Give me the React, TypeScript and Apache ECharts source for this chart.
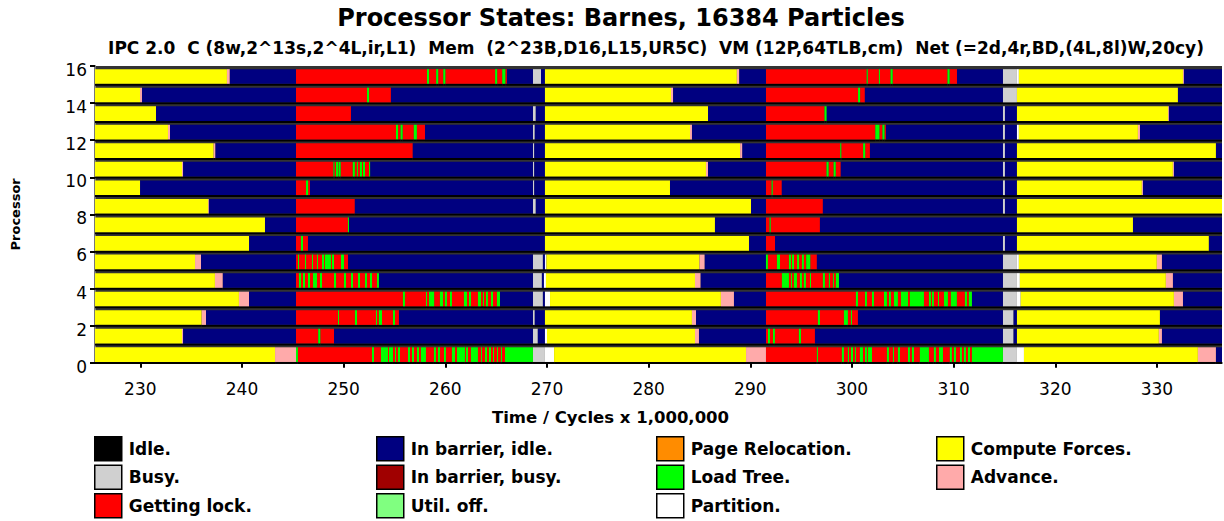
import React, { useEffect, useRef } from "react";
import * as echarts from "echarts";

// Processor states (legend order is column-major, three per column)
const STATE_NAMES = [
  "Idle.",
  "Busy.",
  "Getting lock.",
  "In barrier, idle.",
  "In barrier, busy.",
  "Util. off.",
  "Page Relocation.",
  "Load Tree.",
  "Partition.",
  "Compute Forces.",
  "Advance.",
];
const STATE_COLORS = [
  "#000000",
  "#d0d0d0",
  "#ff0000",
  "#000080",
  "#a00000",
  "#80ff80",
  "#ff8c00",
  "#00ff00",
  "#ffffff",
  "#ffff00",
  "#ffaaaa",
];

// state indices
const U = 1; // busy
const L = 2; // getting lock
const B = 3; // in barrier, idle
const T = 7; // load tree
const P = 8; // partition
const C = 9; // compute forces
const A = 10; // advance

const TIME_START = 225.54;
const TIME_END = 336.4;
const TIME_TICKS = [230, 240, 250, 260, 270, 280, 290, 300, 310, 320, 330];

// Each processor: list of [segment end time, state]; a segment starts where the previous one ended.
const proc0 = [[243.25,C],[245.31,A],[245.5,T],[252.79,L],[252.98,T],[253.67,L],[254.36,T],[254.46,L],[254.85,T],[255.05,L],[255.15,T],[255.34,L],[255.54,T],[256.33,L],[256.52,T],[256.72,L],[256.92,T],[257.21,L],[257.41,T],[257.6,L],[258.1,T],[258.88,L],[259.08,T],[259.28,L],[259.47,T],[259.87,L],[260.06,T],[260.65,L],[260.95,T],[261.15,L],[261.93,T],[262.03,L],[262.23,T],[262.52,L],[263.21,T],[263.51,L],[263.6,T],[263.9,L],[264.1,T],[264.29,L],[264.49,T],[264.69,L],[264.79,T],[265.08,L],[265.18,T],[265.47,L],[265.57,T],[265.87,L],[268.62,T],[269.8,U],[270.7,P],[289.58,C],[291.54,A],[296.55,L],[296.65,T],[299.01,L],[299.21,T],[299.6,L],[299.7,T],[299.9,L],[300.1,T],[300.29,L],[300.39,T],[300.78,L],[301.08,T],[301.28,L],[301.47,T],[301.57,L],[301.97,T],[303.44,L],[303.64,T],[304.03,L],[304.13,T],[304.52,L],[304.72,T],[305.51,L],[305.7,T],[305.9,L],[306.1,T],[306.68,L],[307.57,T],[308.06,L],[308.26,T],[308.56,L],[308.95,T],[309.63,L],[309.83,T],[310.03,L],[310.23,T],[310.62,L],[310.82,T],[311.01,L],[311.21,T],[311.41,L],[311.61,T],[311.8,L],[314.85,T],[316.23,U],[316.92,P],[334.03,C],[335.8,A],[336.4,B]];
const proc1 = [[234.1,C],[234.2,A],[245.31,B],[247.5,L],[247.7,T],[249.05,L],[268.62,B],[269.1,U],[269.8,B],[270.0,P],[284.56,C],[284.95,A],[291.54,B],[291.74,L],[291.93,T],[292.23,L],[292.42,T],[294.78,L],[294.98,T],[296.36,L],[314.85,B],[315.9,U],[316.23,B],[330.19,C],[330.49,A],[336.4,B]];
const proc2 = [[236.03,C],[236.46,A],[245.31,B],[249.44,L],[249.54,T],[251.11,L],[251.31,T],[253.18,L],[253.28,T],[253.47,L],[253.77,T],[254.85,L],[255.05,T],[255.44,L],[268.62,B],[268.8,U],[269.8,B],[284.26,C],[284.66,A],[291.54,B],[296.65,L],[296.85,T],[299.21,L],[299.6,T],[299.9,L],[300.0,T],[300.59,L],[314.85,B],[315.9,U],[316.23,B],[330.29,C],[336.4,B]];
const proc3 = [[239.7,C],[240.69,A],[245.31,B],[255.83,L],[256.03,T],[258.1,L],[258.2,T],[258.4,L],[258.9,T],[259.47,L],[259.77,T],[259.96,L],[260.16,T],[260.46,L],[260.65,T],[261.83,L],[262.13,T],[262.33,L],[262.52,T],[263.21,L],[263.51,T],[263.7,L],[263.8,T],[264.0,L],[264.19,T],[264.49,L],[264.69,T],[265.08,L],[265.38,T],[268.62,B],[269.6,U],[269.8,B],[270.3,P],[287.11,C],[288.39,A],[291.54,B],[300.39,L],[300.59,T],[301.28,L],[301.47,T],[301.97,L],[302.16,T],[303.15,L],[303.44,T],[303.64,L],[303.83,T],[304.13,L],[304.52,T],[304.82,L],[305.51,T],[305.7,L],[307.08,T],[307.57,L],[307.77,T],[307.87,L],[308.06,T],[308.46,L],[308.56,T],[309.05,L],[309.44,T],[309.73,L],[310.32,T],[311.11,L],[311.31,T],[311.5,L],[311.8,T],[314.85,B],[316.23,U],[316.6,P],[331.67,C],[332.56,A],[336.4,B]];
const proc4 = [[237.34,C],[238.1,A],[245.31,B],[245.6,L],[245.8,T],[246.0,L],[246.2,T],[246.49,L],[246.69,T],[246.98,L],[247.38,T],[247.67,L],[247.87,T],[249.05,L],[249.25,T],[250.03,L],[250.23,T],[250.72,L],[250.92,T],[251.41,L],[251.61,T],[252.1,L],[252.29,T],[252.59,L],[252.79,T],[253.28,L],[253.47,T],[268.62,B],[269.5,U],[269.7,B],[269.9,P],[284.56,C],[285.1,A],[291.54,B],[293.11,L],[293.8,T],[294.0,L],[294.1,T],[294.29,L],[294.59,T],[294.88,L],[295.08,T],[295.27,L],[295.47,T],[295.87,L],[295.97,T],[297.14,L],[297.34,T],[297.73,L],[297.83,T],[298.13,L],[298.22,T],[298.42,L],[298.72,T],[314.85,B],[316.23,U],[316.52,P],[330.88,C],[331.57,A],[336.4,B]];
const proc5 = [[235.38,C],[235.97,A],[245.31,B],[245.51,L],[245.61,T],[246.2,L],[246.3,T],[246.88,L],[246.98,T],[247.38,L],[247.47,T],[247.87,L],[248.07,T],[248.16,L],[248.75,T],[248.85,L],[249.05,T],[249.74,L],[250.03,T],[250.43,L],[268.62,B],[269.6,U],[269.8,B],[269.95,P],[285.0,C],[285.5,A],[291.54,B],[291.73,T],[292.62,L],[292.92,T],[293.8,L],[294.0,T],[294.1,L],[294.3,T],[294.6,L],[294.8,T],[295.08,L],[295.27,T],[295.5,L],[295.9,T],[296.55,L],[314.85,B],[316.23,U],[316.42,P],[329.99,C],[330.49,A],[336.4,B]];
const proc6 = [[240.69,C],[245.31,B],[245.8,L],[246.0,T],[246.49,L],[269.8,B],[289.87,C],[291.54,B],[292.43,L],[314.85,B],[315.05,U],[316.23,B],[335.1,C],[336.4,B]];
const proc7 = [[242.26,C],[245.31,B],[250.42,L],[250.52,T],[269.8,B],[286.52,C],[291.54,B],[291.9,L],[292.0,T],[296.85,L],[316.23,B],[327.64,C],[336.4,B]];
const proc8 = [[236.68,C],[236.75,A],[245.31,B],[251.1,L],[268.62,B],[268.9,U],[269.8,B],[290.07,C],[291.54,B],[297.14,L],[314.85,B],[315.05,U],[316.23,B],[336.4,C]];
const proc9 = [[229.97,C],[245.31,B],[246.3,L],[246.5,T],[246.69,L],[268.62,B],[268.75,U],[269.8,B],[282.1,C],[291.54,B],[292.1,L],[292.2,T],[293.1,L],[314.85,B],[315.05,U],[316.23,B],[328.52,C],[328.62,A],[336.4,B]];
const proc10 = [[234.1,C],[234.2,A],[245.31,B],[249.0,L],[249.1,T],[249.25,L],[249.45,T],[249.5,L],[249.7,T],[250.9,L],[251.1,T],[251.3,L],[251.4,T],[251.6,L],[251.8,T],[251.9,L],[252.1,T],[252.5,L],[252.6,T],[268.62,B],[268.75,U],[269.8,B],[285.64,C],[285.84,A],[291.54,B],[297.5,L],[297.7,T],[298.2,L],[298.4,T],[298.9,L],[314.85,B],[315.05,U],[316.23,B],[331.57,C],[331.67,A],[336.4,B]];
const proc11 = [[237.21,C],[237.37,A],[245.31,B],[256.8,L],[268.62,B],[268.75,U],[269.8,B],[289.0,C],[289.2,A],[291.54,B],[298.85,L],[298.95,T],[301.1,L],[301.3,T],[301.77,L],[314.85,B],[315.05,U],[316.23,B],[335.8,C],[336.4,B]];
const proc12 = [[232.72,C],[232.92,A],[245.31,B],[255.15,L],[255.35,T],[255.6,L],[255.8,T],[256.9,L],[257.2,T],[258.0,L],[268.62,B],[268.8,U],[269.8,B],[284.07,C],[284.26,A],[291.54,B],[302.3,L],[302.7,T],[303.0,L],[303.2,T],[303.34,L],[314.85,B],[315.05,U],[316.23,B],[316.42,P],[328.13,C],[328.33,A],[336.4,B]];
const proc13 = [[231.54,C],[245.31,B],[250.72,L],[268.62,B],[268.9,U],[269.8,B],[285.84,C],[291.54,B],[297.3,L],[297.5,T],[314.85,B],[315.05,U],[316.23,B],[331.1,C],[331.18,A],[336.4,B]];
const proc14 = [[229.97,C],[230.16,A],[245.31,B],[252.3,L],[252.5,T],[254.65,L],[269.8,B],[282.2,C],[282.4,A],[291.54,B],[300.6,L],[300.8,T],[301.27,L],[314.85,B],[316.23,U],[332.06,C],[336.4,B]];
const proc15 = [[238.52,C],[238.79,A],[245.31,B],[258.2,L],[258.4,T],[259.1,L],[259.3,T],[259.8,L],[260.0,T],[264.9,L],[265.1,T],[265.6,L],[265.9,T],[266.06,L],[268.62,B],[269.41,U],[269.8,B],[288.68,C],[288.9,A],[291.54,B],[301.45,L],[301.55,T],[302.65,L],[302.75,T],[303.8,L],[304.0,T],[309.4,L],[309.6,T],[310.33,L],[314.85,B],[316.23,U],[316.42,P],[332.56,C],[332.65,A],[336.4,B]];

const PROCESSORS = [
  proc0, proc1, proc2, proc3, proc4, proc5, proc6, proc7,
  proc8, proc9, proc10, proc11, proc12, proc13, proc14, proc15,
];

const LEGEND_COLUMNS = [
  ["Idle.", "Busy.", "Getting lock."],
  ["In barrier, idle.", "In barrier, busy.", "Util. off."],
  ["Page Relocation.", "Load Tree.", "Partition."],
  ["Compute Forces.", "Advance."],
];
const LEGEND_LEFT = [94, 376, 656, 936];

const FONT = "'DejaVu Sans', Verdana, sans-serif";
const BAR_LOW = 0.04; // bar bottom inside a processor's row (axis units)
const BAR_HIGH = 0.83; // bar top inside a processor's row

function buildSeries() {
  const perState: number[][][] = STATE_NAMES.map(() => []);
  PROCESSORS.forEach((segments, proc) => {
    let start = TIME_START;
    segments.forEach(([end, state]) => {
      perState[state].push([start, end, proc]);
      start = end;
    });
  });
  return STATE_NAMES.map((name, s) => ({
    type: "custom",
    name,
    itemStyle: { color: STATE_COLORS[s] },
    encode: { x: [0, 1], y: 2 },
    data: perState[s],
    renderItem: (params: any, api: any) => {
      const proc = api.value(2);
      const topLeft = api.coord([api.value(0), proc + BAR_HIGH]);
      const bottomRight = api.coord([api.value(1), proc + BAR_LOW]);
      const w = bottomRight[0] - topLeft[0];
      const h = bottomRight[1] - topLeft[1];
      return {
        type: "group",
        children: [
          {
            type: "rect",
            shape: { x: topLeft[0], y: bottomRight[1], width: w, height: 2 },
            style: { fill: "#000000" },
          },
          {
            type: "rect",
            shape: { x: topLeft[0], y: topLeft[1], width: w, height: h },
            style: { fill: STATE_COLORS[s] },
          },
        ],
      };
    },
  }));
}

export default function App() {
  const ref = useRef<HTMLDivElement>(null);

  useEffect(() => {
    if (!ref.current) return;
    const chart = echarts.init(ref.current, null, { renderer: "svg" });
    chart.setOption({
      animation: false,
      backgroundColor: "#ffffff",
      title: [
        {
          text: "Processor States: Barnes, 16384 Particles",
          left: 621,
          top: 6,
          textAlign: "center",
          padding: 0,
          textStyle: { fontFamily: FONT, fontSize: 24, fontWeight: "bold", color: "#000" },
        },
        {
          text: "IPC 2.0  C (8w,2^13s,2^4L,ir,L1)  Mem  (2^23B,D16,L15,UR5C)  VM (12P,64TLB,cm)  Net (=2d,4r,BD,(4L,8l)W,20cy)",
          left: 656,
          top: 39,
          textAlign: "center",
          padding: 0,
          textStyle: { fontFamily: FONT, fontSize: 17, fontWeight: "bold", color: "#000" },
        },
      ],
      grid: {
        left: 95,
        right: 2,
        top: 66,
        height: 296.7,
        show: true,
        backgroundColor: "#333333",
        borderWidth: 0,
      },
      xAxis: {
        type: "value",
        min: TIME_START,
        max: TIME_END,
        name: "Time / Cycles x 1,000,000",
        nameLocation: "middle",
        nameGap: 46,
        nameTextStyle: {
          fontFamily: FONT,
          fontSize: 16.5,
          fontWeight: "bold",
          color: "#000",
          padding: [0, 96, 0, 0],
        },
        axisLine: { show: true, lineStyle: { color: "#777777", width: 2 } },
        axisTick: { show: true, customValues: TIME_TICKS, length: 5, lineStyle: { color: "#000", width: 2 } },
        axisLabel: { customValues: TIME_TICKS, fontFamily: FONT, fontSize: 17, color: "#000", margin: 18 },
        splitLine: { show: false },
      },
      yAxis: {
        type: "value",
        min: 0,
        max: 16,
        interval: 2,
        name: "Processor",
        nameLocation: "middle",
        nameRotate: 90,
        nameGap: 73,
        nameTextStyle: { fontFamily: FONT, fontSize: 13, fontWeight: "bold", color: "#000" },
        axisLine: { show: true, lineStyle: { color: "#777777", width: 2 } },
        axisTick: { show: true, length: 5, lineStyle: { color: "#000", width: 2 } },
        axisLabel: {
          fontFamily: FONT,
          fontSize: 17,
          color: "#000",
          margin: 8,
          verticalAlign: "top",
          lineHeight: 8,
        },
        splitLine: { show: false },
      },
      legend: LEGEND_COLUMNS.map((names, i) => ({
        orient: "vertical",
        left: LEGEND_LEFT[i],
        top: 436,
        padding: 0,
        itemWidth: 27,
        itemHeight: 24,
        itemGap: 3,
        icon: "rect",
        selectedMode: false,
        data: names,
        itemStyle: { borderColor: "#000", borderWidth: 1.5 },
        textStyle: { fontFamily: FONT, fontSize: 17, fontWeight: "bold", color: "#000", padding: [0, 0, 0, 2] },
      })),
      series: buildSeries(),
    });
    return () => chart.dispose();
  }, []);

  return (
    <div
      ref={ref}
      style={{ position: "absolute", left: 0, top: 0, width: 1224, height: 521 }}
    />
  );
}
